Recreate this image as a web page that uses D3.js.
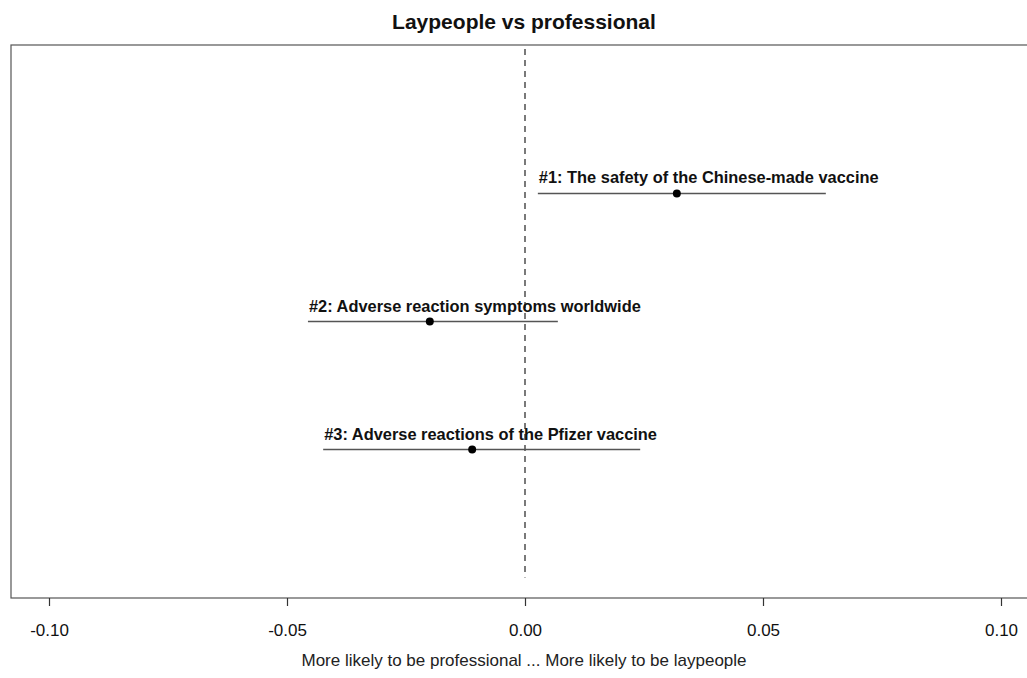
<!DOCTYPE html>
<html>
<head>
<meta charset="utf-8">
<script src="https://cdn.jsdelivr.net/npm/d3@7"></script>
<style>
  body { margin: 0; background: #fff; }
  svg { display: block; font-family: "Liberation Sans", Arial, sans-serif; }
</style>
</head>
<body>
<svg id="chart" width="1027" height="678"></svg>
<script>
// topics, top to bottom
let topics = [
    "#1: The safety of the Chinese-made vaccine",
    "#2: Adverse reaction symptoms worldwide",
    "#3: Adverse reactions of the Pfizer vaccine"
]
let estimate = [0.0319, -0.0200, -0.0111]
let lower = [0.0027, -0.0456, -0.0424]
let upper = [0.0632, 0.0069, 0.0242]
let xTicks = [-0.10, -0.05, 0.00, 0.05, 0.10]

let svg = d3.select("#chart")

// plot region (R style, 4% padding beyond ticks)
let xScale = d3.scaleLinear()
    .domain([-0.10, 0.10])
    .range([49, 1001])

let yScale = d3.scaleLinear()
    .domain([-0.16, 4.16])
    .range([45, 598])

let xMin = xScale.invert(11), xMax = xScale.invert(1039)

// box
svg.append("rect")
    .attr("x", xScale(xMin))
    .attr("y", yScale(-0.16))
    .attr("width", xScale(xMax) - xScale(xMin))
    .attr("height", yScale(4.16) - yScale(-0.16))
    .attr("fill", "none")
    .attr("stroke", "#555")
    .attr("stroke-width", 1.2)

// reference line at zero
svg.append("line")
    .attr("x1", xScale(0)).attr("x2", xScale(0))
    .attr("y1", yScale(-0.16) + 4).attr("y2", yScale(4.0))
    .attr("stroke", "#222")
    .attr("stroke-width", 1.2)
    .attr("stroke-dasharray", "6,5")

// x axis
let xAxis = d3.axisBottom(xScale)
    .tickValues(xTicks)
    .tickSize(8)
    .tickFormat(d3.format(".2f"))

let gx = svg.append("g")
    .attr("transform", "translate(0," + yScale(4.16) + ")")
    .call(xAxis)
gx.select(".domain").remove()
gx.selectAll(".tick line").attr("stroke", "#333").attr("stroke-width", 1.2)
gx.selectAll(".tick text")
    .attr("y", 25.5)
    .attr("dy", "0.71em")
    .attr("fill", "#111")
    .style("font-size", "17px")
    .style("font-family", "Liberation Sans, Arial, sans-serif")
    .text(d => d3.format(".2f")(d).replace("−", "-"))

let rows = topics.map((t, i) => ({ topic: t, est: estimate[i], lo: lower[i], hi: upper[i], row: i + 1 }))

// intervals
svg.selectAll(".ci")
    .data(rows)
    .enter().append("line")
    .attr("class", "ci")
    .attr("x1", d => xScale(d.lo))
    .attr("x2", d => xScale(d.hi))
    .attr("y1", d => yScale(d.row))
    .attr("y2", d => yScale(d.row))
    .attr("stroke", "#555")
    .attr("stroke-width", 1.5)

svg.selectAll(".pt")
    .data(rows)
    .enter().append("circle")
    .attr("class", "pt")
    .attr("cx", d => xScale(d.est))
    .attr("cy", d => yScale(d.row))
    .attr("r", 4)
    .attr("fill", "#000")

svg.selectAll(".lab")
    .data(rows)
    .enter().append("text")
    .attr("class", "lab")
    .attr("x", d => xScale(d.lo) + 1)
    .attr("y", d => yScale(d.row) - 10)
    .attr("font-size", "16.4px")
    .attr("font-weight", "bold")
    .attr("fill", "#111")
    .text(d => d.topic)

// title + axis label
svg.append("text")
    .attr("x", 524)
    .attr("y", 29)
    .attr("text-anchor", "middle")
    .attr("font-size", "21px")
    .attr("font-weight", "bold")
    .attr("fill", "#111")
    .text("Laypeople vs professional")

svg.append("text")
    .attr("x", 524)
    .attr("y", 666)
    .attr("text-anchor", "middle")
    .attr("font-size", "17px")
    .attr("fill", "#222")
    .text("More likely to be professional ... More likely to be laypeople")
</script>
</body>
</html>
